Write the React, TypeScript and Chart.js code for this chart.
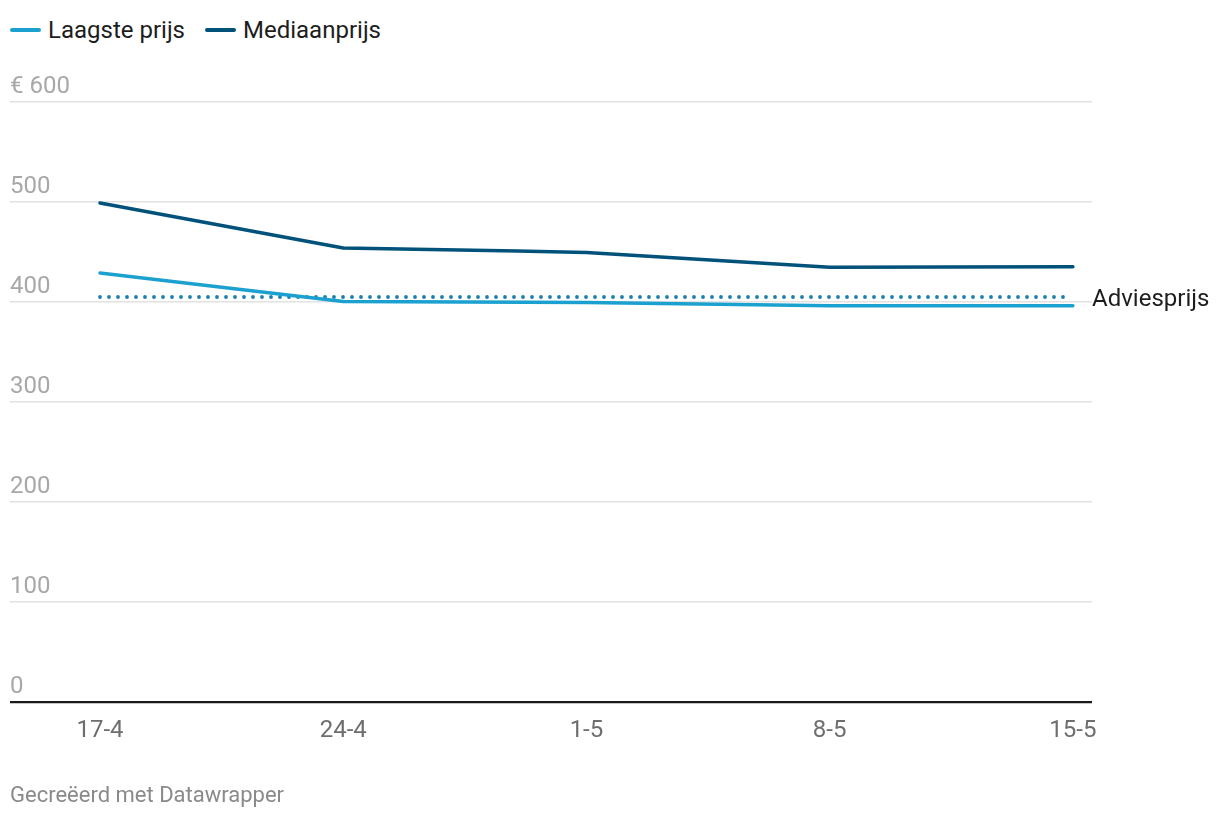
import React, { useEffect, useRef } from "react";
import { Chart, registerables } from "chart.js";

Chart.register(...registerables);

// Categories (x axis), expressed as day offsets from 17-4
const xTickLabels = ["17-4", "24-4", "1-5", "8-5", "15-5"];
const xTickDays = [0, 7, 14, 21, 28];

// Series: Laagste prijs
const lowestDays = [0, 7, 14, 21, 28];
const lowestValues = [429, 400.5, 399.5, 396.3, 396.2];

// Series: Mediaanprijs
const medianDays = [0, 7, 12, 14, 21, 28];
const medianValues = [499, 454, 451, 449.5, 434.7, 435.3];

// Reference line: Adviesprijs
const adviceDays = [0, 27.75];
const adviceValues = [405, 405];
const adviceLabel = "Adviesprijs";

// Y axis ticks
const yTickValues = [0, 100, 200, 300, 400, 500, 600];

const FONT = "Roboto, 'Noto Sans', sans-serif";
const LOWEST_COLOR = "#1ba1cf";
const MEDIAN_COLOR = "#00527b";
const ADVICE_COLOR = "#1b7fae";

const adviceLabelPlugin = {
  id: "adviceLabel",
  afterDatasetsDraw(chart: any) {
    const { ctx, chartArea, scales } = chart;
    const y = scales.y.getPixelForValue(adviceValues[0]);
    ctx.save();
    ctx.font = `24px ${FONT}`;
    ctx.fillStyle = "#1d1d1d";
    ctx.textAlign = "left";
    ctx.textBaseline = "middle";
    ctx.fillText(adviceLabel, chartArea.right, y + 2.5);
    ctx.restore();
  },
};

export default function App() {
  const canvasRef = useRef<HTMLCanvasElement | null>(null);

  useEffect(() => {
    const canvas = canvasRef.current;
    if (!canvas) return;
    const chart = new Chart(canvas, {
      type: "line",
      data: {
        datasets: [
          {
            label: "Laagste prijs",
            data: lowestDays.map((d, i) => ({ x: d, y: lowestValues[i] })),
            borderColor: LOWEST_COLOR,
            borderWidth: 3.5,
            pointRadius: 0,
            tension: 0,
            borderJoinStyle: "round",
            borderCapStyle: "round",
          },
          {
            label: "Mediaanprijs",
            data: medianDays.map((d, i) => ({ x: d, y: medianValues[i] })),
            borderColor: MEDIAN_COLOR,
            borderWidth: 3.5,
            pointRadius: 0,
            tension: 0,
            borderJoinStyle: "round",
            borderCapStyle: "round",
          },
          {
            label: adviceLabel,
            data: adviceDays.map((d, i) => ({ x: d, y: adviceValues[i] })),
            borderColor: ADVICE_COLOR,
            borderWidth: 3.8,
            borderDash: [0, 9],
            borderCapStyle: "round",
            pointRadius: 0,
            tension: 0,
          },
        ],
      },
      options: {
        responsive: false,
        animation: false,
        events: [],
        layout: { padding: { left: 10, right: 128, top: 102, bottom: 0 } },
        plugins: {
          legend: { display: false },
          tooltip: { enabled: false },
        },
        scales: {
          x: {
            type: "linear",
            min: -2.59,
            max: 28.55,
            afterBuildTicks: (scale: any) => {
              scale.ticks = xTickDays.map((v) => ({ value: v }));
            },
            afterFit: (scale: any) => {
              scale.height = 116;
            },
            grid: { display: false, drawTicks: false },
            border: { display: false },
            ticks: {
              autoSkip: false,
              maxRotation: 0,
              padding: 15,
              color: "#6e6e6e",
              font: { family: FONT, size: 24 },
              callback: (v: any) => {
                const idx = xTickDays.indexOf(Number(v));
                return idx >= 0 ? xTickLabels[idx] : "";
              },
            },
          },
          y: {
            min: 0,
            max: 600,
            afterBuildTicks: (scale: any) => {
              scale.ticks = yTickValues.map((v) => ({ value: v }));
            },
            afterFit: (scale: any) => {
              scale.width = 0;
            },
            border: { display: false },
            grid: {
              drawTicks: false,
              color: (ctx: any) => (ctx.tick && ctx.tick.value === 0 ? "#1a1a1a" : "#e2e2e2"),
              lineWidth: (ctx: any) => (ctx.tick && ctx.tick.value === 0 ? 2.2 : 1.6),
            },
            ticks: {
              mirror: true,
              padding: 0,
              labelOffset: -15.5,
              color: "#a8a8a8",
              font: { family: FONT, size: 24 },
              callback: (v: any) => (Number(v) === 600 ? "€ 600" : String(v)),
            },
          },
        },
      },
      plugins: [adviceLabelPlugin],
    } as any);
    return () => chart.destroy();
  }, []);

  const legendItem = (color: string, text: string) => (
    <div style={{ display: "flex", alignItems: "center", marginRight: 20 }}>
      <div
        style={{
          width: 31,
          height: 4,
          borderRadius: 2,
          background: color,
          marginRight: 7,
        }}
      />
      <span>{text}</span>
    </div>
  );

  return (
    <div
      style={{
        position: "fixed",
        top: 0,
        left: 0,
        width: 1220,
        height: 818,
        background: "#fff",
        fontFamily: FONT,
      }}
    >
      <div
        style={{
          position: "absolute",
          top: 18,
          left: 10,
          display: "flex",
          fontSize: 24,
          lineHeight: "24px",
          color: "#1d1d1d",
        }}
      >
        {legendItem(LOWEST_COLOR, "Laagste prijs")}
        {legendItem(MEDIAN_COLOR, "Mediaanprijs")}
      </div>
      <canvas
        ref={canvasRef}
        width={1220}
        height={818}
        style={{ position: "absolute", top: 0, left: 0, width: 1220, height: 818 }}
      />
      <div
        style={{
          position: "absolute",
          top: 784,
          left: 10,
          fontSize: 22,
          lineHeight: "22px",
          color: "#8a8a8a",
        }}
      >
        Gecreëerd met Datawrapper
      </div>
    </div>
  );
}
